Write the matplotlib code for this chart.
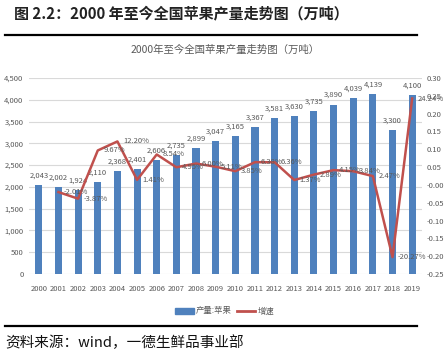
import matplotlib
matplotlib.use("Agg")
import matplotlib.pyplot as plt
from matplotlib.ticker import FuncFormatter
from matplotlib.lines import Line2D

plt.rcParams['font.family'] = ['Noto Sans CJK SC', 'DejaVu Sans']

years = [str(y) for y in range(2000, 2020)]
production = [2043, 2002, 1924, 2110, 2368, 2401, 2606, 2735, 2899, 3047,
              3165, 3367, 3581, 3630, 3735, 3890, 4039, 4139, 3300, 4100]
growth_years = years[1:]
growth = [-0.0201, -0.0387, 0.0967, 0.1220, 0.0141, 0.0854, 0.0495, 0.0600, 0.0511,
          0.0385, 0.0638, 0.0636, 0.0137, 0.0289, 0.0415, 0.0384, 0.0247, -0.2027, 0.2424]

BAR = '#4F81BD'
LINE = '#C0504D'
TXT = '#595959'

fig = plt.figure(figsize=(4.48, 3.57), dpi=100)
W, H = 448, 357
ax = fig.add_axes([29 / W, 1 - 274 / H, (422 - 29) / W, (274 - 78) / H])
x = list(range(len(years)))
ax.bar(x, production, width=0.36, color=BAR, zorder=2)
ax.set_ylim(0, 4500)
ax.set_xlim(-0.5, len(years) - 0.5)
ax.set_yticks(range(0, 4501, 500))
ax.yaxis.set_major_formatter(FuncFormatter(lambda v, p: f"{int(v):,}"))
ax.set_xticks(x)
ax.set_xticklabels(years)
ax.grid(axis='y', color='#D9D9D9', linewidth=0.8, zorder=0)
for s in ax.spines.values():
    s.set_visible(False)
ax.tick_params(length=0, labelsize=5.5, colors=TXT, pad=8)
ax.tick_params(axis='y', pad=4)
for xi, v in zip(x, production):
    ax.annotate(f"{v:,}", (xi, v), xytext=(0, 4), textcoords='offset points',
                ha='center', va='bottom', fontsize=5.5, color=TXT, zorder=5)

ax2 = ax.twinx()
gx = x[1:]
ax2.plot(gx, growth, color=LINE, linewidth=1.8, zorder=3)
ax2.set_ylim(-0.25, 0.30)
ax2.set_yticks([0.30 - 0.05 * i for i in range(12)])
ax2.yaxis.set_major_formatter(FuncFormatter(lambda v, p: f"{v:.2f}"))
for s in ax2.spines.values():
    s.set_visible(False)
ax2.tick_params(length=0, labelsize=5.5, colors=TXT, pad=3)
for xi, g in zip(gx, growth):
    ax2.annotate(f"{g * 100:.2f}%", (xi, g), xytext=(4, 0), textcoords='offset points',
                 ha='left', va='center', fontsize=5.5, color=TXT, zorder=5)

fig.text(225 / W, 1 - 50 / H, "2000年至今全国苹果产量走势图（万吨）", ha='center', va='center',
         fontsize=7.5, color=TXT)
fig.text(14 / W, 1 - 14 / H, "图 2.2：2000 年至今全国苹果产量走势图（万吨）", ha='left', va='center',
         fontsize=10.8, fontweight='bold', color='#222222')
fig.text(5 / W, 1 - 343 / H, "资料来源：wind，一德生鲜品事业部", ha='left', va='center',
         fontsize=10.5, fontweight='medium', color='#111111')

fig.add_artist(Line2D([5 / W, 417 / W], [1 - 35 / H, 1 - 35 / H], color='black', linewidth=1.6))
fig.add_artist(Line2D([5 / W, 417 / W], [1 - 326 / H, 1 - 326 / H], color='black', linewidth=1.6))

handles = [plt.Rectangle((0, 0), 1, 1, color=BAR), Line2D([], [], color=LINE, linewidth=2)]
fig.legend(handles, ["产量:苹果", "增速"], loc='center', bbox_to_anchor=(225 / W, 1 - 311 / H),
           ncol=2, frameon=False, fontsize=6, labelcolor=TXT, handlelength=2.2, handleheight=0.7,
           columnspacing=0.6, handletextpad=0.3)

fig.savefig("out.png", dpi=100)
